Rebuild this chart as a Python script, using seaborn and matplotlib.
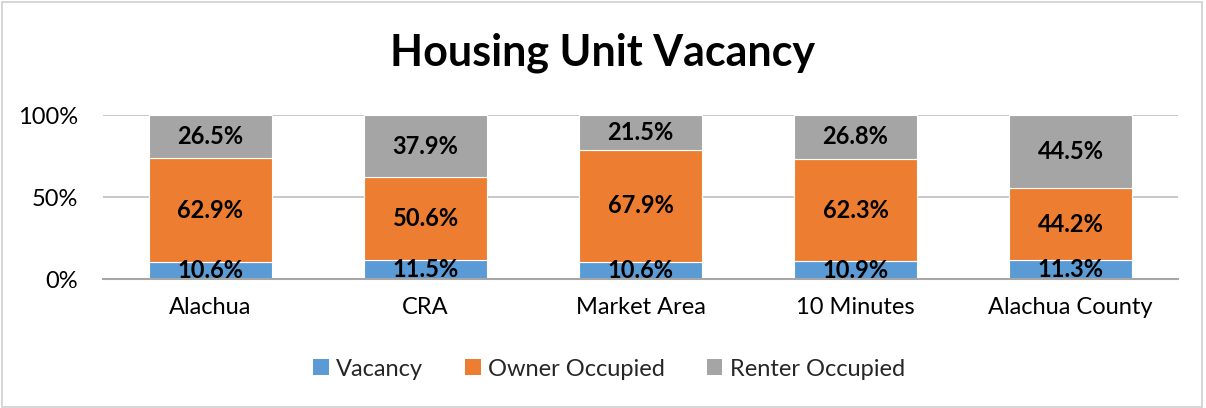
import matplotlib
matplotlib.use("Agg")
import matplotlib.pyplot as plt
import seaborn as sns
import numpy as np
from matplotlib.patches import Rectangle, Patch

categories = ["Alachua", "CRA", "Market Area", "10 Minutes", "Alachua County"]
vacancy = [10.6, 11.5, 10.6, 10.9, 11.3]
owner = [62.9, 50.6, 67.9, 62.3, 44.2]
renter = [26.5, 37.9, 21.5, 26.8, 44.5]
series_names = ["Vacancy", "Owner Occupied", "Renter Occupied"]
colors = ["#5B9BD5", "#ED7D31", "#A5A5A5"]
yticks = [0, 50, 100]
ytick_labels = ["0%", "50%", "100%"]

sns.set_theme(style="white")
plt.rcParams["font.family"] = ["Lato", "DejaVu Sans"]

fig = plt.figure(figsize=(12.06, 4.08), dpi=100)
ax = fig.add_axes([103/1206, 1-279/408, (1178-103)/1206, (279-115)/408])

bottom = np.zeros(len(categories))
for name, vals, col in zip(series_names, [vacancy, owner, renter], colors):
    sns.barplot(x=categories, y=vals, bottom=bottom, color=col, width=0.57,
                saturation=1, edgecolor="white", linewidth=0.8, ax=ax, zorder=3)
    cont = ax.containers[-1]
    ax.bar_label(cont, labels=[f"{v:.1f}%" for v in vals], label_type="center",
                 fontsize=17, fontweight="bold", color="black", zorder=5)
    bottom = bottom + np.array(vals)

ax.set_ylim(0, 100)
ax.set_xlim(-0.5, 4.5)
ax.set_yticks(yticks)
ax.set_yticklabels(ytick_labels)
ax.tick_params(axis="y", length=0, pad=18, labelsize=17, labelcolor="#000000")
ax.tick_params(axis="x", length=0, pad=13, labelsize=17, labelcolor="#000000")
ax.yaxis.grid(True, color="#bfbfbf", linewidth=1.2, zorder=0)
ax.set_axisbelow(True)
for s in ["left", "right", "top"]:
    ax.spines[s].set_visible(False)
ax.spines["bottom"].set_color("#a6a6a6")
ax.spines["bottom"].set_linewidth(1.5)
ax.spines["bottom"].set_zorder(6)
ax.set_xlabel("")
ax.set_ylabel("")

fig.text(0.5, 1-53/408, "Housing Unit Vacancy", ha="center", va="center",
         fontsize=31, fontweight="bold", color="black")

handles = [Patch(facecolor=c, edgecolor="none") for c in colors]
fig.legend(handles, series_names, loc="center", bbox_to_anchor=(0.505, 1-369/408),
           ncol=3, frameon=False, fontsize=17, handlelength=0.65, handleheight=0.65,
           columnspacing=1.8, handletextpad=0.3)

fig.patches.append(Rectangle((0.002, 0.003), 0.995, 0.993, transform=fig.transFigure,
                             fill=False, edgecolor="#d0d0d0", linewidth=1.2))

fig.savefig("out.png", dpi=100)
